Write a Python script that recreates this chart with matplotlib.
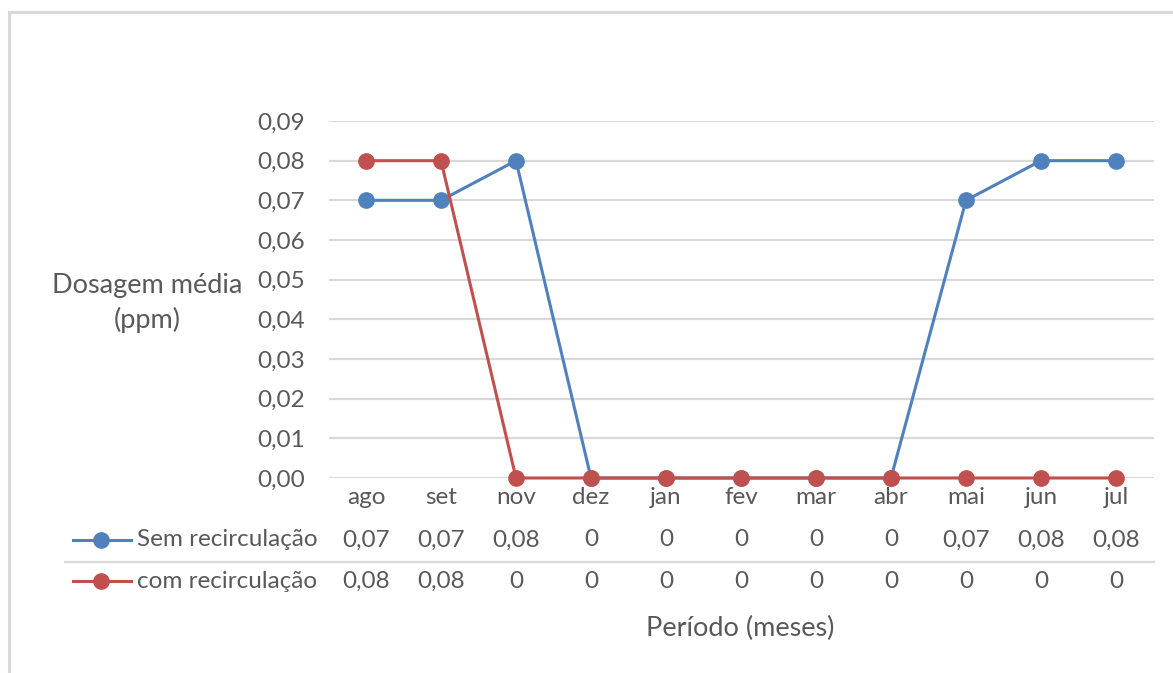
import matplotlib
matplotlib.use("Agg")
import matplotlib.pyplot as plt
from matplotlib.lines import Line2D
from matplotlib.transforms import blended_transform_factory

months = ["ago", "set", "nov", "dez", "jan", "fev", "mar", "abr", "mai", "jun", "jul"]
sem_recirculacao = [0.07, 0.07, 0.08, 0, 0, 0, 0, 0, 0.07, 0.08, 0.08]
com_recirculacao = [0.08, 0.08, 0, 0, 0, 0, 0, 0, 0, 0, 0]
series_names = ["Sem recirculação", "com recirculação"]
y_ticks = [0.00, 0.01, 0.02, 0.03, 0.04, 0.05, 0.06, 0.07, 0.08, 0.09]

BLUE = "#4F81BD"
RED = "#C0504D"
TEXT = "#595959"
GRID = "#D9D9D9"
FONT = "Lato"
FS = 17.5
FS_TITLE = 19.5

W, H = 1173, 673
plt.rcParams["font.family"] = [FONT, "DejaVu Sans"]

fig = plt.figure(figsize=(W / 100, H / 100), dpi=100)
fig.patch.set_facecolor("white")


def fx(px):
    return px / W


def fy(py):
    return 1 - py / H


# chart-area border (left and top edges visible)
fig.add_artist(Line2D([fx(9), fx(9)], [fy(12), -0.1], color=GRID, lw=2.2))
fig.add_artist(Line2D([fx(9), 1.1], [fy(12), fy(12)], color=GRID, lw=2.2))

ax = fig.add_axes([fx(328.5), fy(478), fx(1153.5) - fx(328.5), fy(121) - fy(478)])
x = list(range(len(months)))
ax.set_xlim(-0.5, len(months) - 0.5)
ax.set_ylim(0, 0.09)

ax.set_yticks(y_ticks)
ax.set_yticklabels([f"{v:.2f}".replace(".", ",") for v in y_ticks], fontsize=FS, color=TEXT)
ax.tick_params(axis="y", length=0, pad=17)
ax.set_xticks([])
ax.grid(axis="y", color=GRID, lw=1.6)
ax.set_axisbelow(True)
for s in ax.spines.values():
    s.set_visible(False)

colors = [BLUE, RED]
for vals, c in zip([sem_recirculacao, com_recirculacao], colors):
    ax.plot(x, vals, color=c, lw=2.2, marker="o", ms=11, clip_on=False, zorder=3)

# data table below the plot
tr = blended_transform_factory(ax.transData, fig.transFigure)


def fmt(v):
    return "0" if v == 0 else f"{v:.2f}".replace(".", ",")


for i, m in enumerate(months):
    ax.text(i, fy(498), m, transform=tr, ha="center", va="center", fontsize=FS, color=TEXT)

row_y = [fy(540), fy(581)]
for vals, ry in zip([sem_recirculacao, com_recirculacao], row_y):
    for i, v in enumerate(vals):
        ax.text(i, ry, fmt(v), transform=tr, ha="center", va="center", fontsize=FS, color=TEXT)

for name, c, ry in zip(series_names, colors, row_y):
    fig.add_artist(Line2D([fx(73), fx(131)], [ry, ry], color=c, lw=2.2))
    fig.add_artist(Line2D([fx(101)], [ry], color=c, marker="o", ms=11, lw=0))
    fig.text(fx(137), ry, name, ha="left", va="center", fontsize=FS, color=TEXT)

fig.add_artist(Line2D([fx(65), fx(1153.5)], [fy(562), fy(562)], color=GRID, lw=1.6))

fig.text(fx(147), fy(303), "Dosagem média\n(ppm)", ha="center", va="center",
         fontsize=FS_TITLE, color=TEXT, linespacing=1.38)
fig.text(fx(740), fy(628), "Período (meses)", ha="center", va="center", fontsize=FS_TITLE, color=TEXT)

fig.savefig("out.png", dpi=100, facecolor="white")
